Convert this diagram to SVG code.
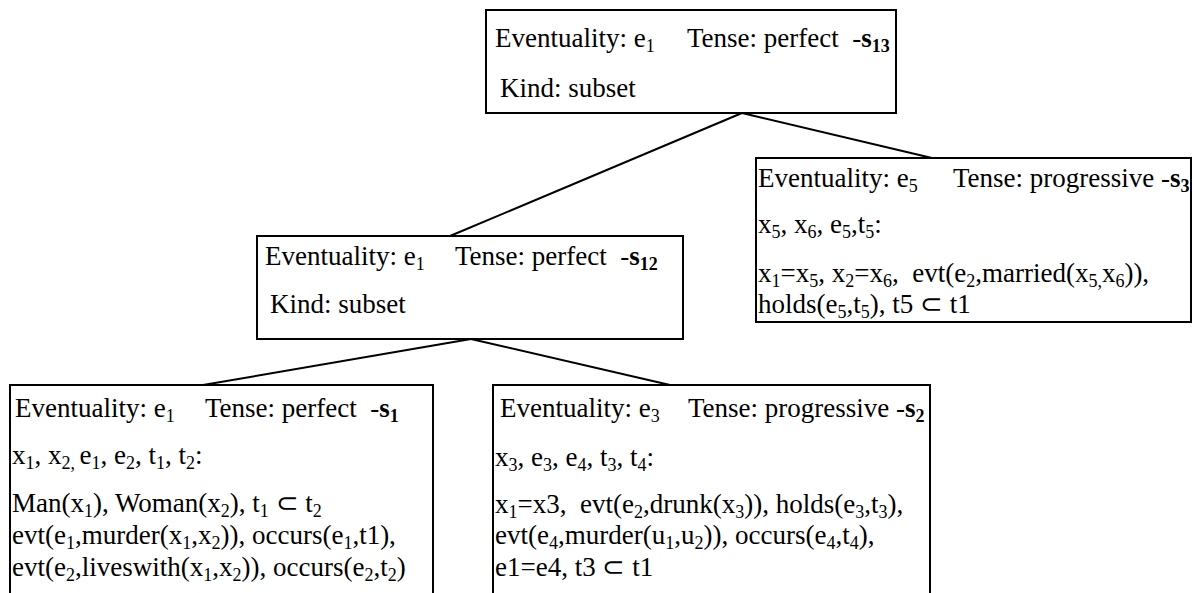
<svg xmlns="http://www.w3.org/2000/svg" width="1194" height="593" viewBox="0 0 1194 593">
<style>
text{font-family:"Liberation Serif","Times New Roman",serif;font-size:27px;fill:#000;white-space:pre}
.b{font-weight:bold}
.s{font-size:18px}
.box{fill:#fff;stroke:#000;stroke-width:2}
.ln{stroke:#000;stroke-width:2;fill:none}
</style>
<rect width="1194" height="593" fill="#fff"/>
<g id="connectors">
<line class="ln" x1="742" y1="113" x2="450" y2="236"/>
<line class="ln" x1="742" y1="113" x2="932" y2="158"/>
<line class="ln" x1="471" y1="339" x2="203" y2="385"/>
<line class="ln" x1="471" y1="339" x2="670" y2="385"/>
</g>
<g id="s13">
<rect class="box" x="486" y="10" width="410" height="103"/>
<text x="495" y="47">Eventuality: e<tspan class="s" dy="5">1</tspan></text>
<text x="687" y="47">Tense: perfect  -<tspan class="b">s</tspan><tspan class="b s" dy="5">13</tspan></text>
<text x="500" y="97">Kind: subset</text>
</g>
<g id="s12">
<rect class="box" x="257" y="236" width="426" height="103"/>
<text x="265" y="265">Eventuality: e<tspan class="s" dy="5">1</tspan></text>
<text x="455" y="265">Tense: perfect  -<tspan class="b">s</tspan><tspan class="b s" dy="5">12</tspan></text>
<text x="270" y="313">Kind: subset</text>
</g>
<g id="s3">
<rect class="box" x="756" y="158" width="435" height="164"/>
<text x="758" y="187">Eventuality: e<tspan class="s" dy="5">5</tspan></text>
<text x="953" y="187">Tense: progressive -<tspan class="b">s</tspan><tspan class="b s" dy="5">3</tspan></text>
<text x="758" y="233">x<tspan class="s" dy="5">5</tspan><tspan dy="-5">, x</tspan><tspan class="s" dy="5">6</tspan><tspan dy="-5">, e</tspan><tspan class="s" dy="5">5</tspan><tspan dy="-5">,t</tspan><tspan class="s" dy="5">5</tspan><tspan dy="-5">:</tspan></text>
<text x="758" y="282">x<tspan class="s" dy="5">1</tspan><tspan dy="-5">=x</tspan><tspan class="s" dy="5">5</tspan><tspan dy="-5">, x</tspan><tspan class="s" dy="5">2</tspan><tspan dy="-5">=x</tspan><tspan class="s" dy="5">6</tspan><tspan dy="-5">,  evt(e</tspan><tspan class="s" dy="5">2</tspan><tspan dy="-5">,married(x</tspan><tspan class="s" dy="5">5,</tspan><tspan dy="-5">x</tspan><tspan class="s" dy="5">6</tspan><tspan dy="-5">)),</tspan></text>
<text x="758" y="313">holds(e<tspan class="s" dy="5">5</tspan><tspan dy="-5">,t</tspan><tspan class="s" dy="5">5</tspan><tspan dy="-5">), t5 ⊂ t1</tspan></text>
</g>
<g id="s1">
<rect class="box" x="10" y="385" width="423" height="220"/>
<text x="15" y="417">Eventuality: e<tspan class="s" dy="5">1</tspan></text>
<text x="205" y="417">Tense: perfect  -<tspan class="b">s</tspan><tspan class="b s" dy="5">1</tspan></text>
<text x="12" y="464">x<tspan class="s" dy="5">1</tspan><tspan dy="-5">, x</tspan><tspan class="s" dy="5">2, </tspan><tspan dy="-5">e</tspan><tspan class="s" dy="5">1</tspan><tspan dy="-5">, e</tspan><tspan class="s" dy="5">2</tspan><tspan dy="-5">, t</tspan><tspan class="s" dy="5">1</tspan><tspan dy="-5">, t</tspan><tspan class="s" dy="5">2</tspan><tspan dy="-5">:</tspan></text>
<text x="12" y="512">Man(x<tspan class="s" dy="5">1</tspan><tspan dy="-5">), Woman(x</tspan><tspan class="s" dy="5">2</tspan><tspan dy="-5">), t</tspan><tspan class="s" dy="5">1</tspan><tspan dy="-5"> ⊂ t</tspan><tspan class="s" dy="5">2</tspan></text>
<text x="12" y="544">evt(e<tspan class="s" dy="5">1</tspan><tspan dy="-5">,murder(x</tspan><tspan class="s" dy="5">1</tspan><tspan dy="-5">,x</tspan><tspan class="s" dy="5">2</tspan><tspan dy="-5">)), occurs(e</tspan><tspan class="s" dy="5">1</tspan><tspan dy="-5">,t1),</tspan></text>
<text x="12" y="576">evt(e<tspan class="s" dy="5">2</tspan><tspan dy="-5">,liveswith(x</tspan><tspan class="s" dy="5">1</tspan><tspan dy="-5">,x</tspan><tspan class="s" dy="5">2</tspan><tspan dy="-5">)), occurs(e</tspan><tspan class="s" dy="5">2</tspan><tspan dy="-5">,t</tspan><tspan class="s" dy="5">2</tspan><tspan dy="-5">)</tspan></text>
</g>
<g id="s2">
<rect class="box" x="493" y="385" width="437" height="220"/>
<text x="500" y="417">Eventuality: e<tspan class="s" dy="5">3</tspan></text>
<text x="688" y="417">Tense: progressive -<tspan class="b">s</tspan><tspan class="b s" dy="5">2</tspan></text>
<text x="495" y="466">x<tspan class="s" dy="5">3</tspan><tspan dy="-5">, e</tspan><tspan class="s" dy="5">3</tspan><tspan dy="-5">, e</tspan><tspan class="s" dy="5">4</tspan><tspan dy="-5">, t</tspan><tspan class="s" dy="5">3</tspan><tspan dy="-5">, t</tspan><tspan class="s" dy="5">4</tspan><tspan dy="-5">:</tspan></text>
<text x="495" y="513">x<tspan class="s" dy="5">1</tspan><tspan dy="-5">=x3,  evt(e</tspan><tspan class="s" dy="5">2</tspan><tspan dy="-5">,drunk(x</tspan><tspan class="s" dy="5">3</tspan><tspan dy="-5">)), holds(e</tspan><tspan class="s" dy="5">3</tspan><tspan dy="-5">,t</tspan><tspan class="s" dy="5">3</tspan><tspan dy="-5">),</tspan></text>
<text x="495" y="544">evt(e<tspan class="s" dy="5">4</tspan><tspan dy="-5">,murder(u</tspan><tspan class="s" dy="5">1</tspan><tspan dy="-5">,u</tspan><tspan class="s" dy="5">2</tspan><tspan dy="-5">)), occurs(e</tspan><tspan class="s" dy="5">4</tspan><tspan dy="-5">,t</tspan><tspan class="s" dy="5">4</tspan><tspan dy="-5">),</tspan></text>
<text x="495" y="576">e1=e4, t3 ⊂ t1</text>
</g>
</svg>
